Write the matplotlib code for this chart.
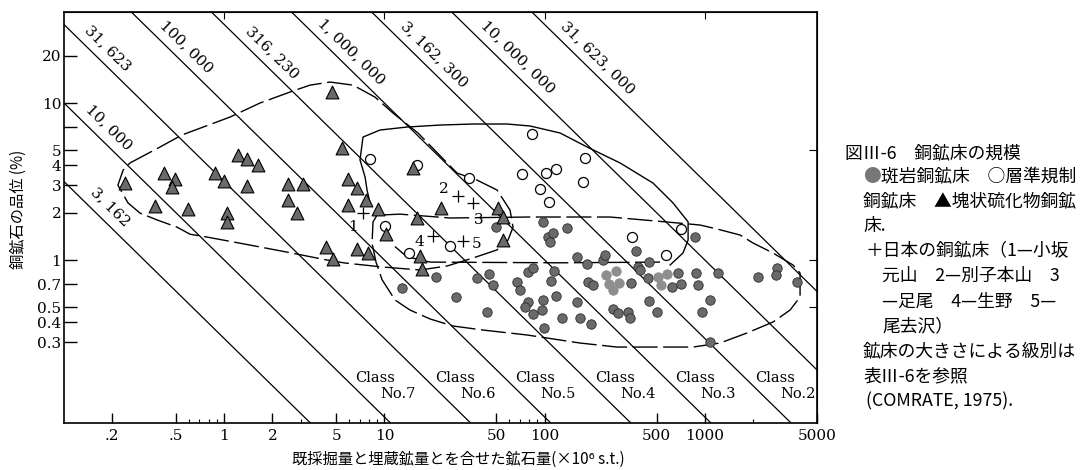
import numpy as np
import matplotlib.pyplot as plt
from matplotlib.ticker import FixedLocator, NullLocator

# fonts: CJK first, DejaVu as fallback for signs like superscripts
plt.rcParams['font.family'] = ['Noto Sans CJK JP', 'DejaVu Sans']
serif = ['DejaVu Serif']

# ---- data: ore tonnage (x10^6 s.t.) and copper grade (%) ----
# massive sulphide deposits (triangles)
tri_t = [4.7, 5.4, 0.24, 0.42, 0.49, 0.47, 0.37, 0.59, 1.22, 1.39, 1.63, 0.88, 1.0, 1.39, 1.04, 1.04,
         2.5, 3.1, 2.5, 2.85, 5.9, 6.75, 5.9, 7.7, 9.1, 10.2, 4.3, 4.8, 6.75, 7.9,
         15.1, 22.6, 16.0, 51, 55, 55, 16.7, 17.2]
tri_g = [11.7, 5.2, 3.1, 3.6, 3.3, 2.9, 2.2, 2.1, 4.7, 4.4, 4.0, 3.6, 3.2, 2.96, 2.0, 1.75,
         3.05, 3.05, 2.4, 2.0, 3.3, 2.87, 2.24, 2.4, 2.1, 1.46, 1.21, 1.01, 1.17, 1.11,
         3.85, 2.14, 1.85, 2.14, 1.88, 1.34, 1.06, 0.88]

# stratabound deposits (open circles)
open_t = [10.1, 16, 8.1, 33.7, 83, 72, 102, 118, 94, 106, 179, 174, 351, 710, 25.7, 14.3, 573]
open_g = [1.65, 4.0, 4.4, 3.33, 6.35, 3.53, 3.58, 3.8, 2.83, 2.34, 4.47, 3.14, 1.4, 1.58, 1.23, 1.11, 1.08]

# porphyry copper deposits (filled circles)
por_t = [12.9, 21, 28, 37.8, 43.7, 45, 47.6, 49.7, 67, 70, 79, 85, 79, 75, 98, 96, 85, 99,
         115, 110, 118, 128, 98, 105, 113, 108, 138, 159, 184, 232, 238, 187, 200, 159, 166, 195,
         267, 287, 332, 341, 346, 372, 383, 394, 449, 442, 449, 503, 624, 680, 710,
         868, 881, 907, 1080, 960, 1210, 1080, 2150, 2830, 2780, 3770]
por_g = [0.66, 0.78, 0.58, 0.77, 0.47, 0.81, 0.69, 1.62, 0.72, 0.64, 0.84, 0.89, 0.54, 0.50, 0.56, 0.48, 0.45, 0.37,
         0.85, 0.73, 0.59, 0.43, 1.75, 1.40, 1.49, 1.30, 1.60, 1.04, 0.94, 1.0, 1.08, 0.72, 0.69, 0.54, 0.43, 0.39,
         0.49, 0.46, 0.47, 0.43, 0.71, 1.14, 0.90, 0.86, 0.97, 0.77, 0.55, 0.47, 0.67, 0.83, 0.70,
         1.40, 0.83, 0.69, 0.56, 0.47, 0.83, 0.30, 0.78, 0.89, 0.80, 0.72]
# the two pale overlapping clusters of porphyry deposits
pale_t = [242, 279, 252, 291, 267, 510, 581, 533]
pale_g = [0.80, 0.85, 0.70, 0.71, 0.64, 0.78, 0.81, 0.69]

# Japanese deposits (crosses)
jp_t = [7.35, 28.8, 35.7, 20.1, 31]
jp_g = [2.0, 2.56, 2.31, 1.42, 1.32]
jp_labels = ['1', '2', '3', '4', '5']

# contained copper lines (s.t. Cu)
iso_cu = [3162, 10000, 31623, 100000, 316230, 1000000, 3162300, 10000000, 31623000]
iso_labels = ['3, 162', '10, 000', '31, 623', '100, 000', '316, 230', '1, 000, 000',
              '3, 162, 300', '10, 000, 000', '31, 623, 000']
iso_label_grade = [1.88, 6.07, 19.4, 19.9, 18.2, 18.5, 17.7, 16.9, 16.9]

class_names = ['No.7', 'No.6', 'No.5', 'No.4', 'No.3', 'No.2']
class_lower_cu = [10000, 31623, 100000, 316230, 1000000, 3162300]

# envelopes
ms_env_t = [0.258, 0.398, 0.545, 1.087, 1.673, 2.575, 3.43, 4.58, 6.37, 8.74, 11.3, 16.2, 28.4, 37.8,
            50.5, 60.8, 63.5, 59.1, 50.5, 35.7, 24.6, 16.7, 9.8, 5.68, 4.38, 2.50, 1.255, 0.781,
            0.612, 0.507, 0.381, 0.298, 0.251, 0.217, 0.234, 0.258]
ms_env_g = [4.15, 5.25, 6.26, 8.14, 10.0, 11.75, 13.0, 13.6, 13.0, 10.9, 8.64, 6.44, 3.58, 3.23,
            2.79, 2.08, 1.62, 1.34, 1.16, 1.03, 0.916, 0.864, 0.902, 0.957, 1.0, 1.12, 1.28, 1.40,
            1.46, 1.62, 1.80, 1.99, 2.31, 3.00, 3.74, 4.15]
sb_env_t = [8.13, 7.79, 7.57, 7.04, 7.35, 9.39, 13.8, 22.2, 35.7, 58.3, 81.1, 125, 184, 296,
            475, 633, 786, 786, 731, 607]
sb_env_g = [2.31, 2.79, 3.38, 4.34, 6.07, 6.73, 7.03, 7.24, 7.35, 7.35, 7.14, 6.44, 5.25, 4.15,
            3.09, 2.31, 1.75, 1.34, 1.11, 0.93]
sb_low_t = [525, 125, 19.3, 13.8, 11.3]
sb_low_g = [0.97, 0.96, 0.97, 1.05, 1.25]
pc_env_t = [8.99, 8.49, 8.37, 8.86, 9.66, 11.65, 14.45, 19.3, 26.8, 41.3, 77.7, 166, 283, 503, 844,
            1244, 1834, 2666, 3403, 3929, 3929, 3553, 2666, 2000, 1658, 1192, 933, 581, 256, 81.1,
            25.7, 12.5, 8.99]
pc_env_g = [1.93, 1.75, 1.28, 0.97, 0.75, 0.556, 0.48, 0.421, 0.38, 0.358, 0.333, 0.296, 0.279, 0.279, 0.279,
            0.296, 0.343, 0.403, 0.48, 0.581, 0.826, 0.929, 1.108, 1.283, 1.443, 1.576, 1.671, 1.746, 1.879, 1.879,
            1.852, 1.96, 1.93]

x_ticks = [0.2, 0.5, 1, 2, 5, 10, 50, 100, 500, 1000, 5000]
x_ticklabels = ['.2', '.5', '1', '2', '5', '10', '50', '100', '500', '1000', '5000']
x_minor = [0.6, 0.7, 0.8, 0.9, 3, 6, 7, 8, 9, 60, 70, 80, 90, 2000]
y_ticks = [0.3, 0.4, 0.5, 0.7, 1, 2, 3, 4, 5, 7, 10, 20]
y_ticklabels = ['0.3', '0.4', '0.5', '0.7', '1', '2', '3', '4', '5', '', '10', '20']

caption = [
    ('図Ⅲ-6　銅鉱床の規模', 845, 153),
    ('斑岩銅鉱床　○層準規制', 881, 177),
    ('銅鉱床　▲塊状硫化物銅鉱', 863, 201),
    ('床.', 863, 226),
    ('＋日本の銅鉱床（1—小坂', 866, 251),
    ('元山　2—別子本山　3', 882, 276),
    ('—足尾　4—生野　5—', 882, 302),
    ('尾去沢）', 882, 326),
    ('鉱床の大きさによる級別は', 863, 351),
    ('表Ⅲ-6を参照', 863, 376),
    ('(COMRATE, 1975).', 866, 401),
]

W, H = 1088, 470
fig = plt.figure(figsize=(W / 100, H / 100), dpi=100)
ax = fig.add_axes([64 / W, 47 / H, 753 / W, 411 / H])
ax.set_xscale('log')
ax.set_yscale('log')
ax.set_xlim(0.1, 5012)
ax.set_ylim(0.0916, 38)

# iso-lines of contained copper with their labels
tt = np.array([0.01, 1e5])
for cu, lab, gl in zip(iso_cu, iso_labels, iso_label_grade):
    k = cu / 1e4
    ax.plot(tt, k / tt, color='k', lw=0.9, zorder=1)
    ax.annotate(lab, (k / gl, gl), xytext=(7, 7), textcoords='offset points',
                rotation=-44.4, rotation_mode='anchor', ha='center', va='center',
                family=serif, fontsize=11)

# class labels between the lines
for name, cu in zip(class_names, class_lower_cu):
    t0 = cu / 1e4 / 0.177 * 1.16
    ax.text(t0, 0.177, 'Class', family=serif, fontsize=10.5, ha='left', va='center')
    ax.text(t0 * 1.43, 0.140, name, family=serif, fontsize=10.5, ha='left', va='center')

# envelopes
ax.plot(ms_env_t, ms_env_g, color='k', lw=1.0, dashes=(18, 4), zorder=2)
ax.plot(sb_env_t, sb_env_g, color='k', lw=1.0, zorder=2)
ax.plot(sb_low_t, sb_low_g, color='k', lw=1.0, dashes=(18, 4), zorder=2)
ax.plot(pc_env_t, pc_env_g, color='k', lw=1.0, dashes=(18, 4), zorder=2)

# deposits
ax.scatter(por_t, por_g, s=46, c='#6a6a6a', edgecolors='#2b2b2b', linewidths=0.6, zorder=4)
ax.scatter(pale_t, pale_g, s=46, c='#8e8e8e', edgecolors='#8e8e8e', linewidths=0.6, zorder=4)
ax.scatter(open_t, open_g, s=52, c='white', edgecolors='k', linewidths=0.9, zorder=4)
ax.scatter(tri_t, tri_g, s=85, marker='^', c='#6a6a6a', edgecolors='k', linewidths=0.8, zorder=5)
ax.scatter(jp_t, jp_g, s=75, marker='+', c='k', linewidths=0.9, zorder=5)
jp_offsets = [(-7, -10), (-10, 5), (4, -12), (-10, -4), (10, -2)]
for t, g, lab, off in zip(jp_t, jp_g, jp_labels, jp_offsets):
    ax.annotate(lab, (t, g), xytext=off, textcoords='offset points', ha='center', va='center',
                family=serif, fontsize=11)

# axes and ticks
ax.xaxis.set_major_locator(FixedLocator(x_ticks))
ax.xaxis.set_minor_locator(FixedLocator(x_minor))
ax.set_xticklabels(x_ticklabels, family=serif, fontsize=11)
ax.yaxis.set_major_locator(FixedLocator(y_ticks))
ax.yaxis.set_minor_locator(NullLocator())
ax.set_yticklabels(y_ticklabels, family=serif, fontsize=11)
ax.tick_params(axis='x', which='major', direction='in', length=7, width=1, pad=4)
ax.tick_params(axis='x', which='minor', direction='in', length=3, width=0.8)
ax.tick_params(axis='y', which='major', direction='in', length=9, width=1, pad=2)
for sp in ax.spines.values():
    sp.set_linewidth(1.2)

top = ax.secondary_xaxis('top')
top.set_xticks([1, 10, 100, 1000], labels=[])
top.xaxis.set_minor_locator(NullLocator())
top.tick_params(direction='in', length=5)
right = ax.secondary_yaxis('right')
right.set_yticks([0.5, 1, 5], labels=[])
right.yaxis.set_minor_locator(NullLocator())
right.tick_params(direction='in', length=6)

fig.text(18 / W, 1 - 209 / H, '銅鉱石の品位 (%)', rotation=90, ha='center', va='center', fontsize=11)
fig.text(458 / W, 1 - 459 / H, '既採掘量と埋蔵鉱量とを合せた鉱石量(×10⁶ s.t.)',
         ha='center', va='center', fontsize=11)

# caption on the right
fig.text(863 / W, 1 - 177 / H, '●', color='#777777', ha='left', va='center', fontsize=12.8)
for txt, x, y in caption:
    fig.text(x / W, 1 - y / H, txt, ha='left', va='center', fontsize=12.8)

fig.savefig('out.png', dpi=100)
